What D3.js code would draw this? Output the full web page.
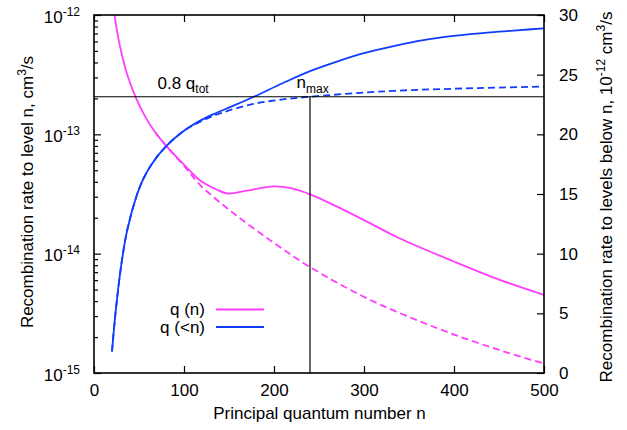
<!DOCTYPE html>
<html>
<head>
<meta charset="utf-8">
<script src="https://cdn.jsdelivr.net/npm/d3@7"></script>
<style>
  html, body { margin: 0; padding: 0; background: #fff; }
  svg { display: block; }
  text { font-family: "Liberation Sans", Arial, Helvetica, sans-serif; fill: #000; }
</style>
</head>
<body>
<svg id="chart" width="627" height="430"></svg>
<script>
// ---------------- DATA ----------------
// q(n): recombination rate to level n (left axis, cm^3/s)
const qnN      = [20, 23, 26, 29, 33, 38, 46, 57, 68, 80, 90, 100, 118, 135, 149, 170, 200, 220, 240, 270, 300, 340, 400, 450, 500];
const qnSolid  = [1.39e-12, 9.71e-13, 7.06e-13, 5.41e-13, 4.04e-13, 2.99e-13, 2.07e-13, 1.40e-13, 1.04e-13, 8.05e-14, 6.67e-14, 5.57e-14, 4.10e-14, 3.48e-14, 3.19e-14, 3.38e-14, 3.66e-14, 3.52e-14, 3.14e-14, 2.48e-14, 1.91e-14, 1.34e-14, 8.59e-15, 6.07e-15, 4.51e-15];
const qnDashN  = [68, 80, 90, 100, 118, 155, 200, 240, 300, 350, 400, 450, 500];
const qnDashed = [1.04e-13, 8.05e-14, 6.6e-14, 5.45e-14, 3.76e-14, 2.18e-14, 1.23e-14, 7.72e-15, 4.34e-15, 2.95e-15, 2.10e-15, 1.56e-15, 1.20e-15];

// q(<n): recombination rate to levels below n (right axis, 1e-12 cm^3/s)
const qcN      = [20, 24, 30, 37, 48, 55, 65, 80, 100, 118, 133, 155, 177, 210, 240, 270, 300, 333, 366, 400, 440, 470, 500];
const qcSolid  = [1.8, 5.1, 8.9, 12.0, 15.0, 16.3, 17.6, 19.0, 20.3, 21.15, 21.7, 22.4, 23.13, 24.3, 25.3, 26.1, 26.8, 27.4, 27.9, 28.25, 28.55, 28.72, 28.88];
const qcDashN  = [20, 24, 30, 37, 48, 55, 65, 80, 100, 118, 140, 177, 210, 240, 300, 350, 400, 450, 500];
const qcDashed = [1.8, 5.1, 8.9, 12.0, 15.0, 16.3, 17.6, 19.0, 20.3, 21.05, 21.75, 22.55, 22.93, 23.15, 23.5, 23.7, 23.82, 23.92, 24.0];

const qTot08 = 23.15;   // 0.8 q_tot, right-axis units
const nMax = 240;

const xTicks = [0, 100, 200, 300, 400, 500];
const yLeftDecades = [-15, -14, -13, -12];
const yRightTicks = [0, 5, 10, 15, 20, 25, 30];

const legendLabels = ["q (n)", "q (<n)"];
const xTitle = "Principal quantum number n";

// ---------------- STYLE ----------------
const MAG = "#ff3dff", BLUE = "#0f3cff";
const FS = 17, SFS = 12;

const svg = d3.select("#chart");
const L = 94, R = 544, T = 15, B = 373;

const x  = d3.scaleLinear().domain([0, 500]).range([L, R]);
const yL = d3.scaleLog().domain([1e-15, 1e-12]).range([B, T]);
const yR = d3.scaleLinear().domain([0, 30]).range([B, T]);

svg.append("defs").append("clipPath").attr("id", "clip")
  .append("rect").attr("x", L).attr("y", T).attr("width", R - L).attr("height", B - T);

// ---------------- AXES ----------------
const gx = svg.append("g").attr("transform", `translate(0,${B})`)
  .call(d3.axisBottom(x).tickValues(xTicks).tickSize(-7).tickPadding(11).tickFormat(d3.format("d")));
const gxt = svg.append("g").attr("transform", `translate(0,${T})`)
  .call(d3.axisTop(x).tickValues(xTicks).tickSize(-7).tickFormat(""));

const majors = yLeftDecades.map(e => Math.pow(10, e));
const minors = [];
yLeftDecades.slice(0, -1).forEach(e => { for (let k = 2; k <= 9; k++) minors.push(k * Math.pow(10, e)); });

const gyl = svg.append("g").attr("transform", `translate(${L},0)`)
  .call(d3.axisLeft(yL).tickValues(majors).tickSize(-7).tickFormat(""));
const gylm = svg.append("g").attr("transform", `translate(${L},0)`)
  .call(d3.axisLeft(yL).tickValues(minors).tickSize(-4).tickFormat(""));

const gyr = svg.append("g").attr("transform", `translate(${R},0)`)
  .call(d3.axisRight(yR).tickValues(yRightTicks).tickSize(-7).tickPadding(15));

[gx, gxt, gyl, gylm, gyr].forEach(g => {
  g.select(".domain").remove();
  g.selectAll("line").attr("stroke", "#000").attr("stroke-width", 1.2);
  g.selectAll("text").style("font-size", FS + "px").attr("fill", "#000")
    .style("font-family", '"Liberation Sans", Arial, sans-serif');
});

// left log labels 10^e
const ll = svg.append("g");
yLeftDecades.forEach(e => {
  const t = ll.append("text").attr("x", 80).attr("y", yL(Math.pow(10, e)) + 7.5)
    .attr("text-anchor", "end").style("font-size", FS + "px");
  t.append("tspan").text("10");
  t.append("tspan").attr("dy", -7).style("font-size", SFS + "px").text("-" + Math.abs(e));
});

// ---------------- CURVES ----------------
const plot = svg.append("g").attr("clip-path", "url(#clip)");
const crv = d3.curveCatmullRom.alpha(0.5);
const lineL = d3.line().x(d => x(d[0])).y(d => yL(d[1])).curve(crv);
const lineR = d3.line().x(d => x(d[0])).y(d => yR(d[1])).curve(crv);

plot.append("path").datum(d3.zip(qnDashN, qnDashed)).attr("d", lineL)
  .attr("fill", "none").attr("stroke", MAG).attr("stroke-width", 1.8).attr("stroke-dasharray", "7,4");
plot.append("path").datum(d3.zip(qcDashN, qcDashed)).attr("d", lineR)
  .attr("fill", "none").attr("stroke", BLUE).attr("stroke-width", 1.8).attr("stroke-dasharray", "7,4");
plot.append("path").datum(d3.zip(qnN, qnSolid)).attr("d", lineL)
  .attr("fill", "none").attr("stroke", MAG).attr("stroke-width", 1.8);
plot.append("path").datum(d3.zip(qcN, qcSolid)).attr("d", lineR)
  .attr("fill", "none").attr("stroke", BLUE).attr("stroke-width", 1.8);

// reference lines
svg.append("line").attr("x1", L).attr("x2", R).attr("y1", yR(qTot08)).attr("y2", yR(qTot08))
  .attr("stroke", "#000").attr("stroke-width", 1.2);
svg.append("line").attr("x1", x(nMax)).attr("x2", x(nMax)).attr("y1", yR(qTot08)).attr("y2", B)
  .attr("stroke", "#000").attr("stroke-width", 1.2);

// annotations
const a1 = svg.append("text").attr("x", 157.5).attr("y", yR(qTot08) - 7.5).style("font-size", FS + "px");
a1.append("tspan").text("0.8 q");
a1.append("tspan").attr("dy", 4).style("font-size", SFS + "px").text("tot");
const a2 = svg.append("text").attr("x", 296.5).attr("y", yR(qTot08) - 9).style("font-size", FS + "px");
a2.append("tspan").text("n");
a2.append("tspan").attr("dy", 5).style("font-size", SFS + "px").text("max");

// frame
svg.append("rect").attr("x", L).attr("y", T).attr("width", R - L).attr("height", B - T)
  .attr("fill", "none").attr("stroke", "#000").attr("stroke-width", 1.6);

// legend
const legY = [309.5, 327];
const legC = [MAG, BLUE];
legendLabels.forEach((lab, i) => {
  svg.append("text").attr("x", 205).attr("y", legY[i] + 5.5).attr("text-anchor", "end")
    .style("font-size", FS + "px").text(lab);
  svg.append("line").attr("x1", 216).attr("x2", 264).attr("y1", legY[i]).attr("y2", legY[i])
    .attr("stroke", legC[i]).attr("stroke-width", 1.8);
});

// axis titles
svg.append("text").attr("x", (L + R) / 2 + 0.5).attr("y", 419).attr("text-anchor", "middle")
  .style("font-size", FS + "px").text(xTitle);

const tl = svg.append("text").attr("transform", `translate(33,192) rotate(-90)`)
  .attr("text-anchor", "middle").style("font-size", FS + "px");
tl.append("tspan").text("Recombination rate to level n, cm");
tl.append("tspan").attr("dy", -7).style("font-size", SFS + "px").text("3");
tl.append("tspan").attr("dy", 7).text("/s");

const tr = svg.append("text").attr("transform", `translate(611.5,197) rotate(-90)`)
  .attr("text-anchor", "middle").style("font-size", FS + "px");
tr.append("tspan").text("Recombination rate to levels below n, 10");
tr.append("tspan").attr("dy", -7).style("font-size", SFS + "px").text("-12");
tr.append("tspan").attr("dy", 7).text(" cm");
tr.append("tspan").attr("dy", -7).style("font-size", SFS + "px").text("3");
tr.append("tspan").attr("dy", 7).text("/s");
</script>
</body>
</html>
